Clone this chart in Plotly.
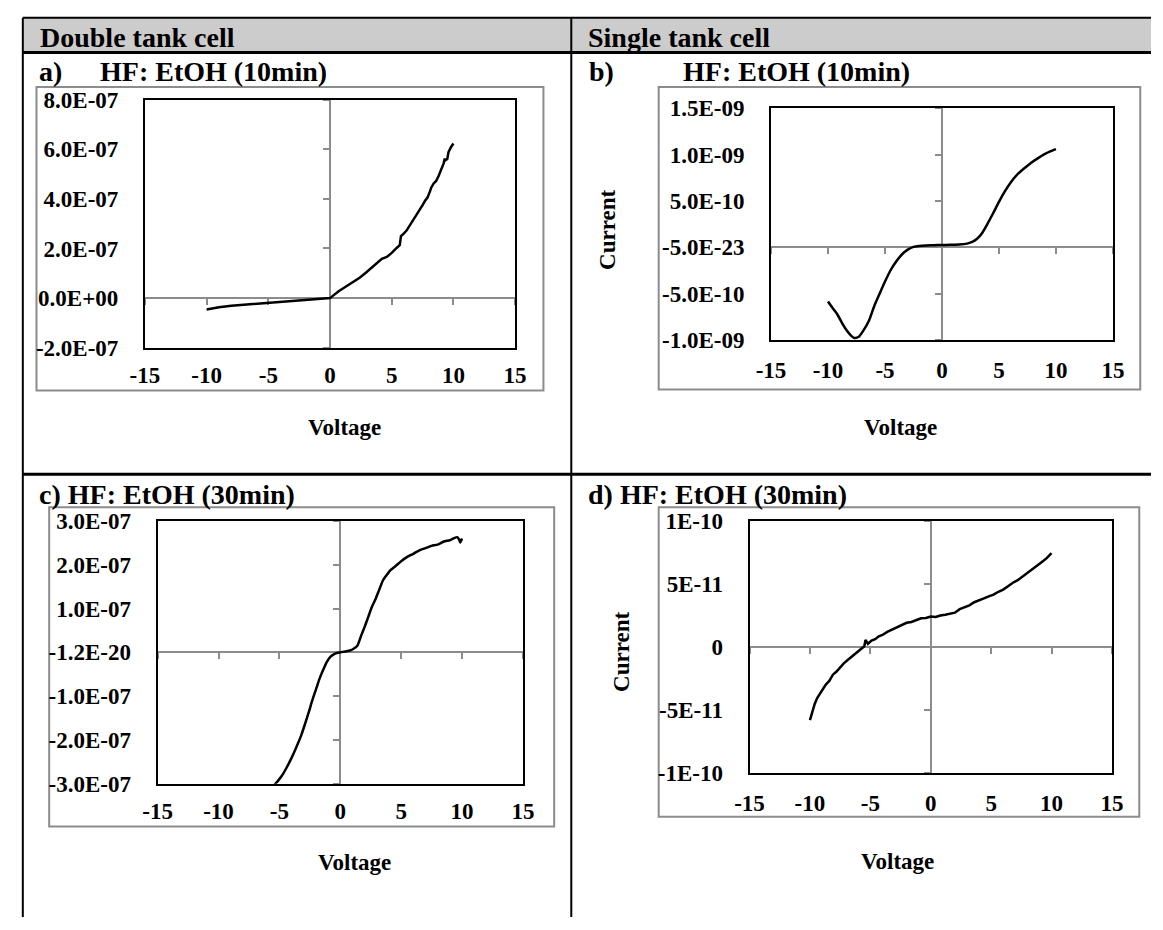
import plotly.graph_objects as go

# ---------------- data ----------------
x_ticks = [-15, -10, -5, 0, 5, 10, 15]
x_ticktext = ["-15", "-10", "-5", "0", "5", "10", "15"]

# a) Double tank cell, HF:EtOH 10 min
volt_a = [-10, -9.5, -9, -8, -7, -6, -5, -4, -3, -2, -1, 0, 0.3, 0.7, 1.2, 1.8, 2.4,
          2.9, 3.4, 3.9, 4.2, 4.6, 5.0, 5.4, 5.65, 5.75, 5.9, 6.2, 6.5, 6.8, 7.1, 7.4,
          7.5, 7.7, 7.9, 8.1, 8.2, 8.4, 8.6, 8.8, 9.0, 9.2, 9.3, 9.35, 9.5, 9.6, 9.8, 10.0]
curr_a = [-0.46e-7, -0.41e-7, -0.37e-7, -0.31e-7, -0.27e-7, -0.23e-7, -0.19e-7, -0.16e-7,
          -0.12e-7, -0.08e-7, -0.04e-7, 0.0, 0.12e-7, 0.28e-7, 0.44e-7, 0.62e-7, 0.82e-7,
          1.02e-7, 1.24e-7, 1.47e-7, 1.58e-7, 1.66e-7, 1.82e-7, 2.02e-7, 2.13e-7, 2.50e-7,
          2.56e-7, 2.72e-7, 2.95e-7, 3.20e-7, 3.42e-7, 3.62e-7, 3.75e-7, 3.92e-7, 4.05e-7,
          4.30e-7, 4.45e-7, 4.62e-7, 4.72e-7, 4.92e-7, 5.15e-7, 5.42e-7, 5.62e-7, 5.55e-7,
          5.60e-7, 5.88e-7, 6.08e-7, 6.23e-7]
y_ticks_a = [-2e-7, 0, 2e-7, 4e-7, 6e-7, 8e-7]
y_ticktext_a = ["-2.0E-07", "0.0E+00", "2.0E-07", "4.0E-07", "6.0E-07", "8.0E-07"]

# b) Single tank cell, HF:EtOH 10 min
volt_b = [-10, -9.6, -9.2, -8.8, -8.4, -8.0, -7.7, -7.3, -6.9, -6.4, -5.9, -5.4, -5.0,
          -4.5, -4.0, -3.5, -3.0, -2.5, -2.0, -1.4, -0.7, 0, 0.7, 1.5, 2.2, 2.7, 3.1, 3.5,
          4.0, 4.5, 5.0, 5.5, 6.0, 6.6, 7.2, 7.8, 8.4, 9.0, 9.5, 10.0]
curr_b = [-5.85e-10, -6.55e-10, -7.2e-10, -8.1e-10, -8.9e-10, -9.5e-10, -9.78e-10,
          -9.65e-10, -9.0e-10, -7.9e-10, -6.2e-10, -4.8e-10, -3.7e-10, -2.45e-10,
          -1.5e-10, -0.75e-10, -0.25e-10, 0.05e-10, 0.15e-10, 0.2e-10, 0.22e-10,
          0.25e-10, 0.27e-10, 0.3e-10, 0.4e-10, 0.6e-10, 0.95e-10, 1.5e-10, 2.55e-10,
          3.7e-10, 4.9e-10, 6.0e-10, 6.95e-10, 7.85e-10, 8.5e-10, 9.1e-10, 9.6e-10,
          10.05e-10, 10.35e-10, 10.6e-10]
y_ticks_b = [-1e-9, -5e-10, 0, 5e-10, 1e-9, 1.5e-9]
y_ticktext_b = ["-1.0E-09", "-5.0E-10", "-5.0E-23", "5.0E-10", "1.0E-09", "1.5E-09"]

# c) Double tank cell, HF:EtOH 30 min
volt_c = [-5.4, -5.1, -4.8, -4.4, -4.0, -3.6, -3.2, -2.9, -2.6, -2.3, -2.0, -1.7, -1.4,
          -1.1, -0.8, -0.5, -0.2, 0, 0.4, 0.8, 1.1, 1.4, 1.7, 2.0, 2.3, 2.6, 2.9, 3.2, 3.5,
          3.8, 4.1, 4.5, 5.0, 5.5, 6.0, 6.5, 7.0, 7.5, 8.0, 8.5, 9.0, 9.3, 9.6, 9.75, 9.85, 10.0]
curr_c = [-3.02e-7, -2.93e-7, -2.82e-7, -2.63e-7, -2.41e-7, -2.16e-7, -1.89e-7, -1.64e-7,
          -1.38e-7, -1.10e-7, -0.85e-7, -0.60e-7, -0.40e-7, -0.22e-7, -0.10e-7, -0.04e-7,
          -0.01e-7, 0.0, 0.02e-7, 0.04e-7, 0.08e-7, 0.15e-7, 0.37e-7, 0.58e-7, 0.81e-7,
          1.04e-7, 1.22e-7, 1.43e-7, 1.64e-7, 1.76e-7, 1.87e-7, 1.96e-7, 2.08e-7, 2.18e-7,
          2.25e-7, 2.33e-7, 2.38e-7, 2.43e-7, 2.46e-7, 2.53e-7, 2.56e-7, 2.60e-7, 2.63e-7,
          2.58e-7, 2.51e-7, 2.60e-7]
y_ticks_c = [-3e-7, -2e-7, -1e-7, 0, 1e-7, 2e-7, 3e-7]
y_ticktext_c = ["-3.0E-07", "-2.0E-07", "-1.0E-07", "-1.2E-20", "1.0E-07", "2.0E-07", "3.0E-07"]

# d) Single tank cell, HF:EtOH 30 min
volt_d = [-10.0, -9.8, -9.6, -9.4, -9.2, -9.0, -8.7, -8.4, -8.1, -7.8, -7.5, -7.2, -6.9,
          -6.6, -6.3, -6.0, -5.7, -5.5, -5.4, -5.2, -4.9, -4.6, -4.3, -4.0, -3.6, -3.2,
          -2.8, -2.4, -2.0, -1.6, -1.2, -0.8, -0.4, 0, 0.4, 0.8, 1.2, 1.6, 2.0, 2.4, 2.8,
          3.2, 3.6, 4.0, 4.4, 4.8, 5.2, 5.6, 6.0, 6.4, 6.8, 7.2, 7.6, 8.0, 8.4, 8.8, 9.2,
          9.6, 10.0]
curr_d = [-5.8e-11, -5.1e-11, -4.5e-11, -4.05e-11, -3.75e-11, -3.4e-11, -3.0e-11, -2.7e-11,
          -2.2e-11, -1.95e-11, -1.6e-11, -1.3e-11, -1.05e-11, -0.8e-11, -0.58e-11, -0.35e-11,
          -0.12e-11, 0.05e-11, 0.55e-11, 0.25e-11, 0.5e-11, 0.62e-11, 0.85e-11, 0.95e-11,
          1.2e-11, 1.38e-11, 1.55e-11, 1.72e-11, 1.92e-11, 1.98e-11, 2.12e-11, 2.28e-11,
          2.3e-11, 2.42e-11, 2.38e-11, 2.5e-11, 2.55e-11, 2.66e-11, 2.72e-11, 3.0e-11,
          3.12e-11, 3.3e-11, 3.55e-11, 3.68e-11, 3.85e-11, 4.02e-11, 4.15e-11, 4.38e-11,
          4.55e-11, 4.82e-11, 5.1e-11, 5.3e-11, 5.58e-11, 5.85e-11, 6.12e-11, 6.45e-11,
          6.75e-11, 7.05e-11, 7.44e-11]
y_ticks_d = [-1e-10, -5e-11, 0, 5e-11, 1e-10]
y_ticktext_d = ["-1E-10", "-5E-11", "0", "5E-11", "1E-10"]

# ---------------- layout geometry (pixels) ----------------
W, H = 1163, 930
FONT = "Liberation Serif"
GRAY = "#8c8c8c"


def px(x):
    return x / W


def py(y):
    return 1 - y / H


panels = [
    dict(v=volt_a, i=curr_a, yt=y_ticks_a, ytt=y_ticktext_a, shape="linear",
         plot=(133, 512, 90, 345), frame=(22, 541, 77, 389),
         title=("a)", "HF: EtOH (10min)"), tpos=(23, 85, 61),
         volt=(337, 427), cur=None, xstand=6),
    dict(v=volt_b, i=curr_b, yt=y_ticks_b, ytt=y_ticktext_b, shape="spline",
         plot=(774, 1124, 99, 337), frame=(659, 1152, 77, 388),
         title=("b)", "HF: EtOH (10min)"), tpos=(586, 682, 61),
         volt=(907, 427), cur=(607, 224), xstand=8),
    dict(v=volt_c, i=curr_c, yt=y_ticks_c, ytt=y_ticktext_c, shape="spline",
         plot=(146, 520, 523, 793), frame=(35, 552, 509, 837),
         title=("c) HF: EtOH (30min)", None), tpos=(23, None, 496),
         volt=(348, 874), cur=None, xstand=6),
    dict(v=volt_d, i=curr_d, yt=y_ticks_d, ytt=y_ticktext_d, shape="linear",
         plot=(752, 1123, 523, 782), frame=(659, 1151, 509, 827),
         title=("d) HF: EtOH (30min)", None), tpos=(585, None, 496),
         volt=(903, 873), cur=(621, 658), xstand=8),
]

fig = go.Figure()
layout = dict(width=W, height=H, margin=dict(l=0, r=0, t=0, b=0),
              paper_bgcolor="white", plot_bgcolor="white", showlegend=False)
shapes = []
annotations = []

tickfont = dict(family=FONT, size=23, color="black", weight="bold")

for k, p in enumerate(panels, start=1):
    z = k + 4
    x0, x1, y0, y1 = p["plot"]
    xdom = [px(x0), px(x1)]
    ydom = [py(y1), py(y0)]
    yr = [p["yt"][0], p["yt"][-1]]
    xr = [x_ticks[0], x_ticks[-1]]

    fig.add_trace(go.Scatter(x=p["v"], y=p["i"], mode="lines",
                             line=dict(color="black", width=2.5, shape=p["shape"],
                                       smoothing=0.6),
                             xaxis=f"x{k}", yaxis=f"y{k}", hoverinfo="skip"))
    # empty traces so the zero-crossing axes are attached to this subplot
    fig.add_trace(go.Scatter(x=[None], y=[None], xaxis=f"x{z}", yaxis=f"y{k}",
                             mode="lines", hoverinfo="skip"))
    fig.add_trace(go.Scatter(x=[None], y=[None], xaxis=f"x{k}", yaxis=f"y{z}",
                             mode="lines", hoverinfo="skip"))

    main_common = dict(showline=True, mirror=True, linecolor="black", linewidth=2,
                       ticks="", showgrid=False, zeroline=False, tickfont=tickfont,
                       fixedrange=True)
    layout[f"xaxis{k}"] = dict(domain=xdom, range=xr, tickvals=x_ticks,
                               ticktext=x_ticktext, anchor=f"y{k}",
                               ticklabelstandoff=p["xstand"], **main_common)
    layout[f"yaxis{k}"] = dict(domain=ydom, range=yr, tickvals=p["yt"],
                               ticktext=p["ytt"], anchor=f"x{k}",
                               ticklabelstandoff=20, **main_common)

    # axes crossing at zero (Excel style)
    yzero = ydom[0] + (0 - yr[0]) / (yr[1] - yr[0]) * (ydom[1] - ydom[0])
    xzero = xdom[0] + (0 - xr[0]) / (xr[1] - xr[0]) * (xdom[1] - xdom[0])
    zero_common = dict(showline=True, linecolor=GRAY, linewidth=2, ticks="outside",
                       ticklen=6, tickwidth=2, tickcolor=GRAY, showticklabels=False,
                       showgrid=False, zeroline=False, layer="below traces",
                       anchor="free", fixedrange=True)
    layout[f"xaxis{z}"] = dict(domain=xdom, overlaying=f"x{k}", position=yzero,
                               range=xr, tickvals=x_ticks, side="bottom", **zero_common)
    layout[f"yaxis{z}"] = dict(domain=ydom, overlaying=f"y{k}", position=xzero,
                               range=yr, tickvals=p["yt"], side="left", **zero_common)

    # grey chart-area frame
    fx0, fx1, fy0, fy1 = p["frame"]
    shapes.append(dict(type="rect", xref="paper", yref="paper",
                       x0=px(fx0), x1=px(fx1), y0=py(fy1), y1=py(fy0),
                       line=dict(color=GRAY, width=2), fillcolor="rgba(0,0,0,0)",
                       layer="below"))

    # titles
    t1, t2 = p["title"]
    tx1, tx2, ty = p["tpos"]
    annotations.append(dict(text=t1, x=px(tx1), y=py(ty), xref="paper", yref="paper",
                            xanchor="left", yanchor="middle", showarrow=False,
                            font=dict(family=FONT, size=28, color="black", weight="bold")))
    if t2:
        annotations.append(dict(text=t2, x=px(tx2), y=py(ty), xref="paper", yref="paper",
                                xanchor="left", yanchor="middle", showarrow=False,
                                font=dict(family=FONT, size=28, color="black", weight="bold")))
    vx, vy = p["volt"]
    annotations.append(dict(text="Voltage", x=px(vx), y=py(vy), xref="paper", yref="paper",
                            xanchor="center", yanchor="middle", showarrow=False,
                            font=dict(family=FONT, size=23, color="black", weight="bold")))
    if p["cur"]:
        cx, cy = p["cur"]
        annotations.append(dict(text="Current", x=px(cx), y=py(cy), xref="paper",
                                yref="paper", xanchor="center", yanchor="middle",
                                textangle=-90, showarrow=False,
                                font=dict(family=FONT, size=23, color="black", weight="bold")))

# table header and lines
shapes.append(dict(type="rect", xref="paper", yref="paper", x0=px(8), x1=1,
                   y0=py(41), y1=py(6), fillcolor="#cccccc", line=dict(width=0),
                   layer="below"))
for yy, wd in [(6, 2), (41.5, 3), (475, 3)]:
    shapes.append(dict(type="line", xref="paper", yref="paper", x0=px(8), x1=1,
                       y0=py(yy), y1=py(yy), line=dict(color="black", width=wd)))
for xx in [8, 569.5]:
    shapes.append(dict(type="line", xref="paper", yref="paper", x0=px(xx), x1=px(xx),
                       y0=0, y1=py(6), line=dict(color="black", width=2)))

for txt, xx in [("Double tank cell", 24), ("Single tank cell", 585)]:
    annotations.append(dict(text=txt, x=px(xx), y=py(26), xref="paper", yref="paper",
                            xanchor="left", yanchor="middle", showarrow=False,
                            font=dict(family=FONT, size=28, color="black", weight="bold")))

layout["shapes"] = shapes
layout["annotations"] = annotations
fig.update_layout(**layout)

fig.write_html("out.html",
               config={"displayModeBar": False, "staticPlot": True},
               post_script="document.body.style.margin='0px';"
                           "document.body.style.overflow='hidden';")
